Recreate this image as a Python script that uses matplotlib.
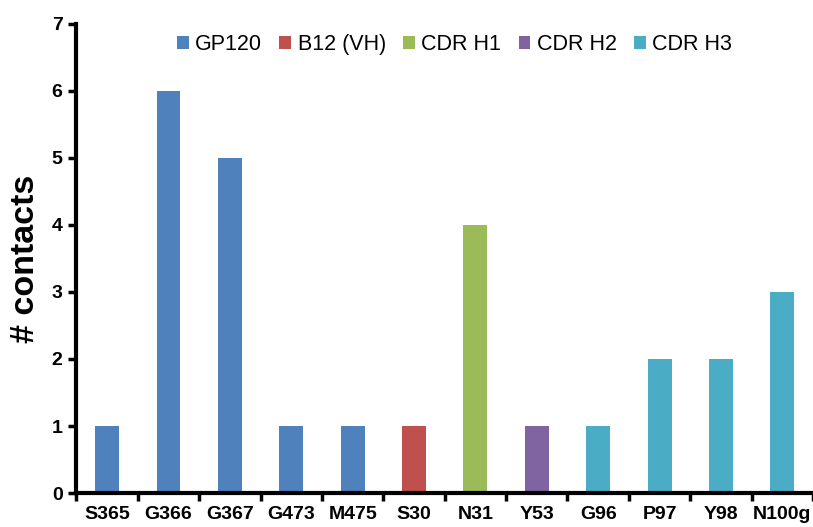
import numpy as np
import matplotlib.pyplot as plt
from matplotlib.ticker import FixedLocator

# data
residues = ['S365', 'G366', 'G367', 'G473', 'M475', 'S30', 'N31', 'Y53', 'G96', 'P97', 'Y98', 'N100g']
contacts = [1, 6, 5, 1, 1, 1, 4, 1, 1, 2, 2, 3]
groups = ['GP120', 'GP120', 'GP120', 'GP120', 'GP120', 'B12 (VH)', 'CDR H1', 'CDR H2',
          'CDR H3', 'CDR H3', 'CDR H3', 'CDR H3']
group_names = ['GP120', 'B12 (VH)', 'CDR H1', 'CDR H2', 'CDR H3']
group_colors = ['#4F81BD', '#C0504D', '#9BBB59', '#8064A2', '#4BACC6']

plt.rcParams['font.family'] = ['Liberation Sans', 'DejaVu Sans']

fig = plt.figure(figsize=(8.13, 5.27), dpi=100)
ax = fig.add_axes([0.094, 0.0645, 0.906, 0.89])

x = np.arange(len(residues))
for name, col in zip(group_names, group_colors):
    idx = [i for i, g in enumerate(groups) if g == name]
    ax.bar(x[idx], [contacts[i] for i in idx], width=0.39, color=col, label=name, zorder=2)

ax.set_xlim(-0.5, len(residues) - 0.5)
ax.set_ylim(0, 7)
ax.set_yticks(range(0, 8))
ax.set_xticks(x)
ax.set_xticklabels(residues, fontsize=14, fontweight='bold')
ax.tick_params(axis='x', which='major', length=0, pad=9)
ax.xaxis.set_minor_locator(FixedLocator(np.arange(-0.5, len(residues), 1.0)))
ax.tick_params(axis='x', which='minor', length=6, width=2.5, direction='out')
ax.tick_params(axis='y', length=6, width=2.5, direction='out', labelsize=14, pad=4)
for lab in ax.get_yticklabels():
    lab.set_fontweight('bold')

for s in ['top', 'right']:
    ax.spines[s].set_visible(False)
for s in ['left', 'bottom']:
    ax.spines[s].set_linewidth(3)
    ax.spines[s].set_zorder(3)

ax.set_ylabel('# contacts', fontsize=24.5, fontweight='bold', labelpad=8)

ax.legend(loc='upper left', bbox_to_anchor=(0.11, 1.02), ncol=5, frameon=False,
          fontsize=15.5, handlelength=0.55, handleheight=0.55, handletextpad=0.3,
          columnspacing=0.8)

fig.savefig('out.png', dpi=100)
